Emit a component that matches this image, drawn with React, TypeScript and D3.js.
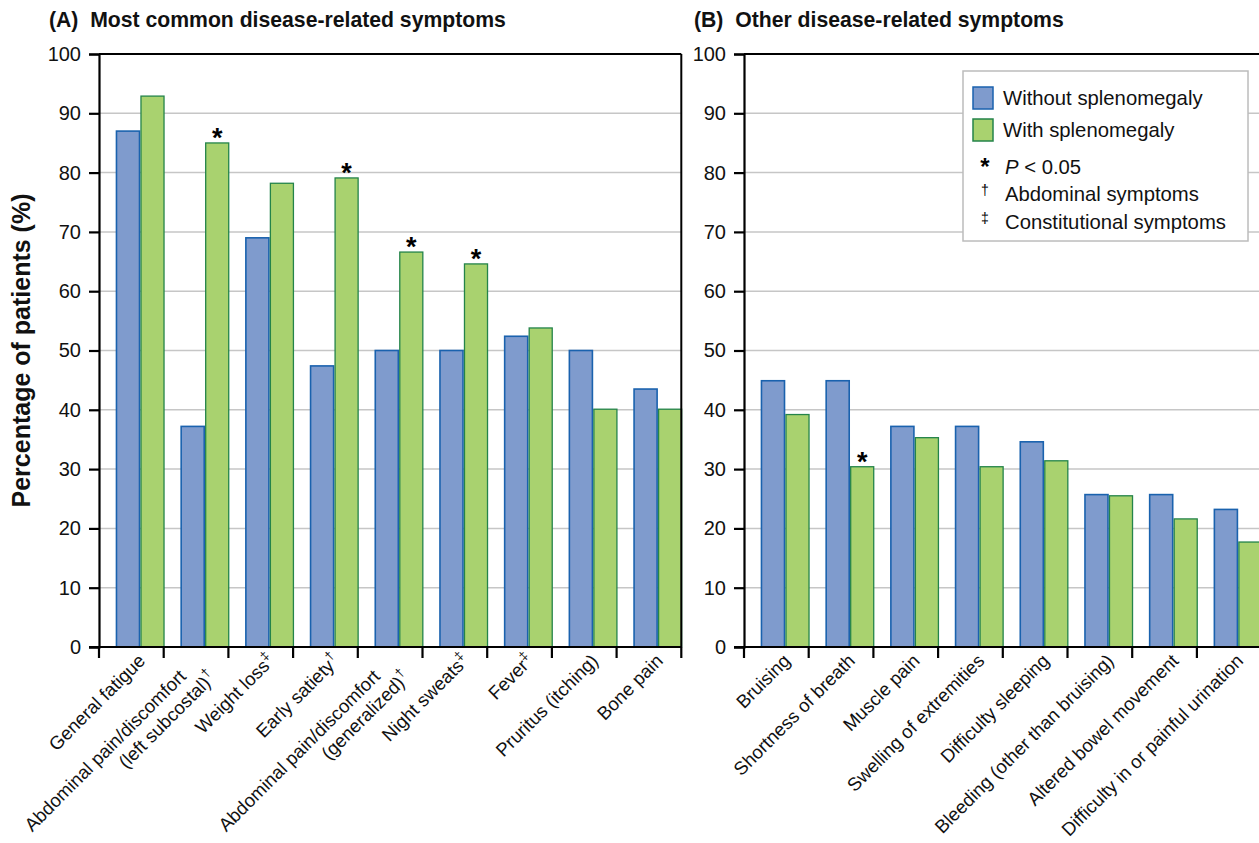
import React, { useEffect, useRef } from 'react';
import * as d3 from 'd3';

// panel A
const labelsA = [
  'General fatigue',
  'Abdominal pain/discomfort\n(left subcostal)',
  'Weight loss',
  'Early satiety',
  'Abdominal pain/discomfort\n(generalized)',
  'Night sweats',
  'Fever',
  'Pruritus (itching)',
  'Bone pain',
];
const marksA = ['', '†', '‡', '†', '†', '‡', '‡', '', ''];
const withoutA = [87, 37.2, 69, 47.4, 50, 50, 52.4, 50, 43.5];
const withA = [92.9, 85, 78.2, 79.1, 66.6, 64.6, 53.8, 40.1, 40.1];
const sigA = [false, true, false, true, true, true, false, false, false];

// panel B
const labelsB = [
  'Bruising',
  'Shortness of breath',
  'Muscle pain',
  'Swelling of extremities',
  'Difficulty sleeping',
  'Bleeding (other than bruising)',
  'Altered bowel movement',
  'Difficulty in or painful urination',
];
const marksB = ['', '', '', '', '', '', '', ''];
const withoutB = [44.9, 44.9, 37.2, 37.2, 34.6, 25.7, 25.7, 23.2];
const withB = [39.2, 30.4, 35.3, 30.4, 31.4, 25.5, 21.6, 17.7];
const sigB = [false, true, false, false, false, false, false, false];

const yTicks = [0, 10, 20, 30, 40, 50, 60, 70, 80, 90, 100];
const seriesNames = ['Without splenomegaly', 'With splenomegaly'];

const FONT = 'Liberation Sans, Arial, sans-serif';
const BLUE = '#7f9bcd';
const BLUE_EDGE = '#1a62ae';
const GREEN = '#a9d26f';
const GREEN_EDGE = '#24844a';

function App() {
  const svgRef = useRef<SVGSVGElement>(null);

  useEffect(() => {
    const svg = d3.select(svgRef.current);
    svg.selectAll('*').remove();

    const width = 1259;
    const height = 843;
    const top = 54;
    const bottom = 647;
    const step = 64.7;

    svg.attr('width', width).attr('height', height);

    const y = d3.scaleLinear().domain([0, 100]).range([bottom, top]);

    const drawPanel = (
      left: number,
      labels: string[],
      marks: string[],
      without: number[],
      withS: number[],
      sig: boolean[],
      title: string,
      frameRight: boolean
    ) => {
      const g = svg.append('g');
      const right = left + labels.length * step;
      const x0 = d3.scaleBand().domain(labels).range([left, right]).padding(0);
      const bw = x0.bandwidth();
      const x1 = d3
        .scaleBand()
        .domain(seriesNames)
        .range([0.27 * bw, 1.005 * bw])
        .paddingInner(0.06);
      const gridRight = frameRight ? right : width;

      // grid
      g.selectAll('line.grid')
        .data(yTicks.filter(t => t > 0 && t < 100))
        .join('line')
        .attr('x1', left)
        .attr('x2', gridRight)
        .attr('y1', d => y(d))
        .attr('y2', d => y(d))
        .attr('stroke', '#c6c6c6')
        .attr('stroke-width', 1.5);

      // bars
      labels.forEach((lab, i) => {
        const vals = [without[i], withS[i]];
        vals.forEach((v, j) => {
          g.append('rect')
            .attr('x', x0(lab)! + x1(seriesNames[j])!)
            .attr('y', y(v))
            .attr('width', x1.bandwidth())
            .attr('height', y(0) - y(v))
            .attr('fill', j === 0 ? BLUE : GREEN)
            .attr('stroke', j === 0 ? BLUE_EDGE : GREEN_EDGE)
            .attr('stroke-width', j === 0 ? 1.6 : 1.3);
        });
        if (sig[i]) {
          g.append('text')
            .attr('x', x0(lab)! + x1(seriesNames[1])! + x1.bandwidth() / 2)
            .attr('y', y(withS[i]) + 4)
            .attr('text-anchor', 'middle')
            .attr('font-family', FONT)
            .attr('font-weight', 'bold')
            .attr('font-size', 27)
            .text('*');
        }
      });

      // frame
      g.append('line')
        .attr('x1', left).attr('x2', gridRight)
        .attr('y1', top).attr('y2', top)
        .attr('stroke', '#000').attr('stroke-width', 2);
      if (frameRight) {
        g.append('line')
          .attr('x1', right).attr('x2', right)
          .attr('y1', top).attr('y2', bottom)
          .attr('stroke', '#000').attr('stroke-width', 2);
      }

      // y axis
      const yAxis = g
        .append('g')
        .attr('transform', `translate(${left},0)`)
        .call(d3.axisLeft(y).tickValues(yTicks).tickSize(10).tickPadding(8));
      yAxis.select('.domain').attr('stroke-width', 2.2);
      yAxis.selectAll('.tick line').attr('stroke-width', 2.2);
      yAxis
        .selectAll('.tick text')
        .attr('font-family', FONT)
        .attr('font-size', 20)
        .attr('fill', '#111');

      // x axis
      const bounds = d3.range(labels.length + 1).map(k => left + k * step);
      g.append('line')
        .attr('x1', left - 10).attr('x2', gridRight)
        .attr('y1', bottom).attr('y2', bottom)
        .attr('stroke', '#000').attr('stroke-width', 2.2);
      g.selectAll('line.xtick')
        .data(bounds)
        .join('line')
        .attr('x1', d => d).attr('x2', d => d)
        .attr('y1', bottom).attr('y2', bottom + 11)
        .attr('stroke', '#000').attr('stroke-width', 2.2);

      // x labels
      labels.forEach((lab, i) => {
        const cx = x0(lab)! + 0.64 * bw + 6;
        const lines = lab.split('\n');
        const t = g
          .append('text')
          .attr('transform', `translate(${cx},${bottom + 15}) rotate(-45)`)
          .attr('text-anchor', 'end')
          .attr('font-family', FONT)
          .attr('font-size', 18.6)
          .attr('fill', '#111');
        lines.forEach((ln, k) => {
          const offs =
            lines.length === 1 ? [0, 0] : k === 0 ? [-28, -6] : [-8, 16];
          t.append('tspan').attr('x', offs[0]).attr('y', offs[1]).text(ln);
          if (k === lines.length - 1 && marks[i]) {
            t.append('tspan')
              .attr('font-size', 13)
              .attr('dy', -8)
              .text(marks[i]);
          }
        });
      });

      // title
      svg
        .append('text')
        .attr('x', left - 50)
        .attr('y', 27)
        .attr('font-family', FONT)
        .attr('font-weight', 'bold')
        .attr('font-size', 21.2)
        .attr('fill', '#111')
        .attr('xml:space', 'preserve')
        .text(title);
    };

    drawPanel(99, labelsA, marksA, withoutA, withA, sigA, '(A)  Most common disease-related symptoms', true);
    drawPanel(744, labelsB, marksB, withoutB, withB, sigB, '(B)  Other disease-related symptoms', false);

    // y label
    svg
      .append('text')
      .attr('transform', `translate(30,${(top + bottom) / 2}) rotate(-90)`)
      .attr('text-anchor', 'middle')
      .attr('font-family', FONT)
      .attr('font-weight', 'bold')
      .attr('font-size', 25)
      .attr('fill', '#111')
      .text('Percentage of patients (%)');

    // legend
    const lg = svg.append('g').attr('transform', 'translate(963,71)');
    lg.append('rect')
      .attr('width', 285)
      .attr('height', 170)
      .attr('fill', '#fff')
      .attr('stroke', '#bcbcbc')
      .attr('stroke-width', 1.5);
    seriesNames.forEach((s, j) => {
      lg.append('rect')
        .attr('x', 10)
        .attr('y', 16 + j * 32)
        .attr('width', 20)
        .attr('height', 22)
        .attr('fill', j === 0 ? BLUE : GREEN)
        .attr('stroke', j === 0 ? BLUE_EDGE : GREEN_EDGE)
        .attr('stroke-width', 1.5);
      lg.append('text')
        .attr('x', 40)
        .attr('y', 34 + j * 32)
        .attr('font-family', FONT)
        .attr('font-size', 20.3)
        .attr('fill', '#111')
        .text(s);
    });
    const notes = [
      { sym: '*', text: 'P < 0.05', y: 103 },
      { sym: '†', text: 'Abdominal symptoms', y: 130 },
      { sym: '‡', text: 'Constitutional symptoms', y: 158 },
    ];
    notes.forEach((n, k) => {
      lg.append('text')
        .attr('x', 22)
        .attr('y', k === 0 ? n.y + 1 : n.y - 6)
        .attr('text-anchor', 'middle')
        .attr('font-family', FONT)
        .attr('font-weight', k === 0 ? 'bold' : 'normal')
        .attr('font-size', k === 0 ? 24 : 14)
        .attr('fill', '#000')
        .text(n.sym);
      const t = lg
        .append('text')
        .attr('x', 42)
        .attr('y', n.y)
        .attr('font-family', FONT)
        .attr('font-size', 20.3)
        .attr('fill', '#111');
      if (k === 0) {
        t.append('tspan').attr('font-style', 'italic').text('P');
        t.append('tspan').text(' < 0.05');
      } else {
        t.text(n.text);
      }
    });
  }, []);

  return (
    <div style={{ position: 'absolute', left: 0, top: 0 }}>
      <svg ref={svgRef}></svg>
    </div>
  );
}

export default App;
